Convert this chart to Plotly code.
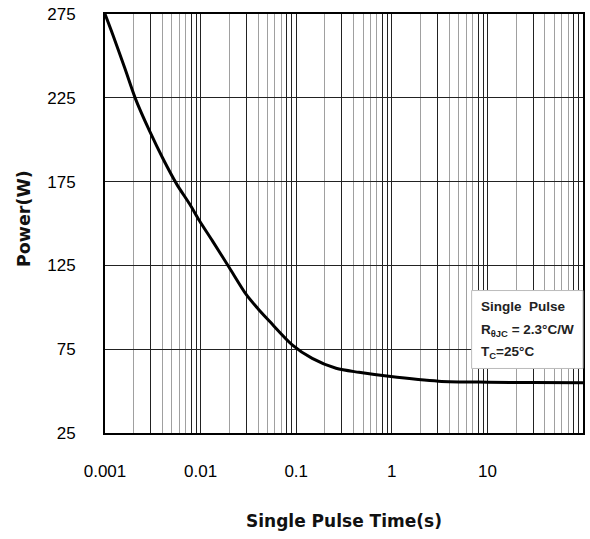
import plotly.graph_objects as go

# Curve data
pulse_time = [0.001, 0.00121, 0.00162, 0.0021, 0.00294, 0.00402, 0.00562, 0.00768,
              0.00977, 0.0133, 0.02, 0.0301, 0.04, 0.0523, 0.0908, 0.147, 0.261, 0.453,
              0.93, 3.09, 10.2, 30, 100]
power_w = [275, 262.5, 242.3, 223.9, 204.9, 188.9, 173.5, 161.6,
           151.5, 139.6, 123.6, 107.5, 99.0, 91.8, 77.6, 69.5, 63.6, 61.2,
           58.8, 55.9, 55.3, 55.1, 55.0]

decades = [0.001, 0.01, 0.1, 1, 10]
decade_labels = ["0.001", "0.01", "0.1", "1", "10"]
dark_mults = [3, 8, 9]
light_mults = [2, 4, 5, 6, 7]
y_ticks = [25, 75, 125, 175, 225, 275]

x_dark = [m * d for d in decades for m in dark_mults]
x_minor = [m * d for d in decades for m in light_mults]

FONT = "Liberation Sans, Arial, sans-serif"
TFONT = "DejaVu Sans, Verdana, sans-serif"

fig = go.Figure()
fig.add_trace(go.Scatter(
    x=pulse_time, y=power_w, mode="lines",
    line=dict(color="black", width=3, shape="spline", smoothing=0.8),
    hoverinfo="skip", showlegend=False))

# extra dark vertical grid lines at 3, 8, 9 x decade (hidden overlaying axis)
fig.add_trace(go.Scatter(x=[0.001, 100], y=[None, None], xaxis="x2", yaxis="y",
                         mode="lines", hoverinfo="skip", showlegend=False))

fig.update_layout(
    width=590, height=539,
    margin=dict(l=105, r=5, t=12, b=106),
    paper_bgcolor="white", plot_bgcolor="white",
    showlegend=False,
    font=dict(family=FONT, color="#111"),
    xaxis2=dict(type="log", range=[-3, 2], overlaying="x", side="bottom",
                tickmode="array", tickvals=x_dark, showticklabels=False,
                showgrid=True, gridcolor="#222", gridwidth=1, ticks="",
                showline=False, zeroline=False, layer="below traces"),
    xaxis=dict(
        type="log", range=[-3, 2],
        tickmode="array", tickvals=decades, ticktext=decade_labels, tickangle=0,
        showgrid=True, gridcolor="#222", gridwidth=1,
        minor=dict(tickmode="array", tickvals=x_minor, showgrid=True,
                   gridcolor="#a0a0a0", gridwidth=1, ticks=""),
        ticks="", ticklabelstandoff=22,
        tickfont=dict(size=17, family=FONT, color="#000"),
        showline=True, linecolor="black", linewidth=2, mirror=True,
        zeroline=False,
    ),
    yaxis=dict(
        range=[25, 275], tickmode="array", tickvals=y_ticks,
        ticktext=[str(v) for v in y_ticks],
        showgrid=True, gridcolor="#222", gridwidth=1,
        ticks="", ticklabelstandoff=24,
        tickfont=dict(size=17, family=FONT, color="#000"),
        showline=True, linecolor="black", linewidth=2, mirror=True,
        zeroline=False,
    ),
)

# axis titles
fig.add_annotation(text="<b>Single Pulse Time(s)</b>", xref="paper", yref="paper",
                   x=0.5, y=-0.211, xanchor="center", yanchor="middle",
                   showarrow=False, font=dict(size=17, family=TFONT, color="#111"))
fig.add_annotation(text="<b>Power(W)</b>", xref="paper", yref="paper",
                   x=-0.169, y=0.511, xanchor="center", yanchor="middle", textangle=-90,
                   showarrow=False, font=dict(size=17.5, family=TFONT, color="#111"))

# note box
fig.add_shape(type="rect", xref="paper", yref="paper", x0=0.767, x1=1.0, y0=0.154, y1=0.34,
              fillcolor="white", line=dict(color="#bbbbbb", width=1), layer="above")
note_lines = ["<b>Single  Pulse</b>", "<b>R<sub>θJC</sub> = 2.3°C/W</b>", "<b>T<sub>C</sub>=25°C</b>"]
note_y = [0.302, 0.245, 0.192]
for t, yy in zip(note_lines, note_y):
    fig.add_annotation(text=t, xref="paper", yref="paper", x=0.783, y=yy,
                       xanchor="left", yanchor="middle", showarrow=False,
                       font=dict(size=13.5, family=FONT, color="#222"))

fig.write_html("out.html")
